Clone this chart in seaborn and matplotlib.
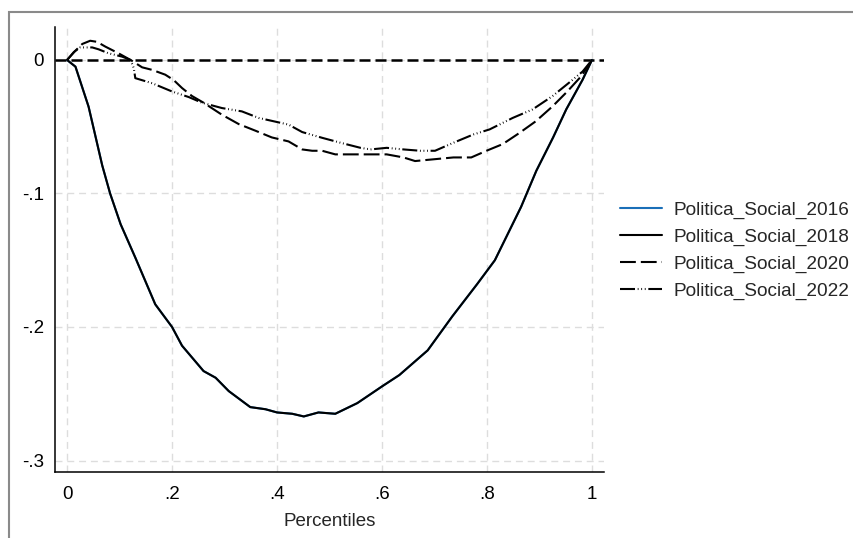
import matplotlib
matplotlib.use("Agg")
import matplotlib.pyplot as plt
import seaborn as sns
from matplotlib.lines import Line2D
from matplotlib.patches import Rectangle

# --- data ---
PCT_2018 = [0, 0.016, 0.041, 0.067, 0.082, 0.102, 0.13, 0.168, 0.2, 0.219, 0.26,
            0.283, 0.308, 0.349, 0.378, 0.4, 0.429, 0.451, 0.479, 0.511, 0.553,
            0.6, 0.633, 0.687, 0.734, 0.781, 0.815, 0.865, 0.894, 0.926, 0.951,
            0.982, 1.0]
VAL_2018 = [0, -0.005, -0.035, -0.079, -0.1, -0.123, -0.148, -0.183, -0.2, -0.214,
            -0.233, -0.238, -0.248, -0.26, -0.2616, -0.264, -0.265, -0.267, -0.264,
            -0.265, -0.257, -0.2445, -0.236, -0.2175, -0.192, -0.168, -0.15, -0.11,
            -0.083, -0.058, -0.037, -0.0149, 0]

# 2016 is not visible in the picture: it sits under the 2018 curve
PCT_2016 = list(PCT_2018)
VAL_2016 = list(VAL_2018)

PCT_2020 = [0, 0.016, 0.029, 0.044, 0.057, 0.073, 0.098, 0.121, 0.143, 0.162, 0.187,
            0.203, 0.219, 0.238, 0.26, 0.295, 0.327, 0.359, 0.39, 0.422, 0.448,
            0.467, 0.486, 0.511, 0.534, 0.584, 0.609, 0.641, 0.663, 0.698, 0.736,
            0.77, 0.799, 0.83, 0.862, 0.893, 0.925, 0.953, 0.979, 1.0]
VAL_2020 = [0, 0.007, 0.012, 0.0144, 0.0136, 0.010, 0.005, 0.0, -0.0055, -0.0074,
            -0.011, -0.015, -0.021, -0.027, -0.032, -0.041, -0.048, -0.053, -0.058,
            -0.061, -0.067, -0.068, -0.068, -0.0707, -0.0707, -0.0707, -0.0707,
            -0.073, -0.0757, -0.0744, -0.073, -0.073, -0.068, -0.063, -0.0546,
            -0.0459, -0.0347, -0.0236, -0.0124, 0]

PCT_2022 = [0, 0.013, 0.025, 0.048, 0.06, 0.079, 0.105, 0.121, 0.127, 0.13, 0.162,
            0.2, 0.232, 0.257, 0.295, 0.333, 0.365, 0.422, 0.448, 0.486, 0.521,
            0.559, 0.578, 0.609, 0.641, 0.673, 0.701, 0.736, 0.774, 0.805, 0.849,
            0.887, 0.925, 0.963, 0.982, 1.0]
VAL_2022 = [0, 0.006, 0.0094, 0.0094, 0.008, 0.005, 0.0025, 0, -0.006, -0.0136,
            -0.0174, -0.0236, -0.0278, -0.032, -0.036, -0.0385, -0.0434, -0.0484,
            -0.054, -0.0583, -0.062, -0.0658, -0.067, -0.0658, -0.067, -0.068,
            -0.068, -0.062, -0.0558, -0.052, -0.0434, -0.037, -0.027, -0.0149,
            -0.0087, 0]

SERIES = ["Politica_Social_2016", "Politica_Social_2018",
          "Politica_Social_2020", "Politica_Social_2022"]
XTICKS = [0, 0.2, 0.4, 0.6, 0.8, 1.0]
XTICK_LABELS = ["0", ".2", ".4", ".6", ".8", "1"]
YTICKS = [0, -0.1, -0.2, -0.3]
YTICK_LABELS = ["0", "-.1", "-.2", "-.3"]

# --- style ---
sns.set_style("white")
plt.rcParams['font.family'] = ['Liberation Sans', 'DejaVu Sans']

BLUE = "#1a6fb8"
STYLES = [
    dict(color=BLUE, linestyle="-"),
    dict(color="black", linestyle="-"),
    dict(color="black", linestyle=(0, (7.6, 2.4))),
    dict(color="black", linestyle=(0, (7.2, 1.3, 0.4, 1.3, 0.4, 1.3, 0.4, 1.3))),
]
LW = 1.5

fig = plt.figure(figsize=(8.54, 5.38), dpi=100)
ax = fig.add_axes([0.0644, 0.1227, 0.6429, 0.8271])

ax.grid(True, color="#dddddd", linestyle=(0, (5, 3.5)), linewidth=1.0)
ax.set_axisbelow(True)

ax.axhline(0, color="black", linewidth=1.8, linestyle=(0, (4.4, 2.0)), zorder=2)

data = [(PCT_2016, VAL_2016), (PCT_2018, VAL_2018),
        (PCT_2020, VAL_2020), (PCT_2022, VAL_2022)]
for (xs, ys), st in zip(data, STYLES):
    sns.lineplot(x=xs, y=ys, ax=ax, estimator=None, legend=False,
                 linewidth=LW, zorder=3, **st)

ax.set_xlim(-0.023, 1.023)
ax.set_ylim(-0.3086, 0.0247)
ax.set_xticks(XTICKS)
ax.set_xticklabels(XTICK_LABELS)
ax.set_yticks(YTICKS)
ax.set_yticklabels(YTICK_LABELS)
ax.set_xlabel("Percentiles", fontsize=13.5, labelpad=7)
ax.set_ylabel("")

for side in ["top", "right"]:
    ax.spines[side].set_visible(False)
for side in ["left", "bottom"]:
    ax.spines[side].set_color("black")
    ax.spines[side].set_linewidth(1.1)
ax.tick_params(direction="out", length=5, width=1.1, labelsize=13.5,
               pad=3, colors="black")
ax.tick_params(axis="x", pad=5)

handles = [Line2D([0], [0], linewidth=LW, **st) for st in STYLES]
fig.legend(handles, SERIES, loc="center left",
           bbox_to_anchor=(620 / 854, 1 - 251 / 538),
           bbox_transform=fig.transFigure, frameon=False, fontsize=13.7,
           borderpad=0, borderaxespad=0, handlelength=2.2,
           handletextpad=0.6, labelspacing=0.5)

# gray outer frame of the graph region
fig.add_artist(Rectangle((9 / 854, -0.05), 1.1, 1 - 12 / 538 + 0.05,
                         transform=fig.transFigure, fill=False,
                         edgecolor="#8a8a8a", linewidth=1.5))

fig.savefig("out.png", dpi=100)
